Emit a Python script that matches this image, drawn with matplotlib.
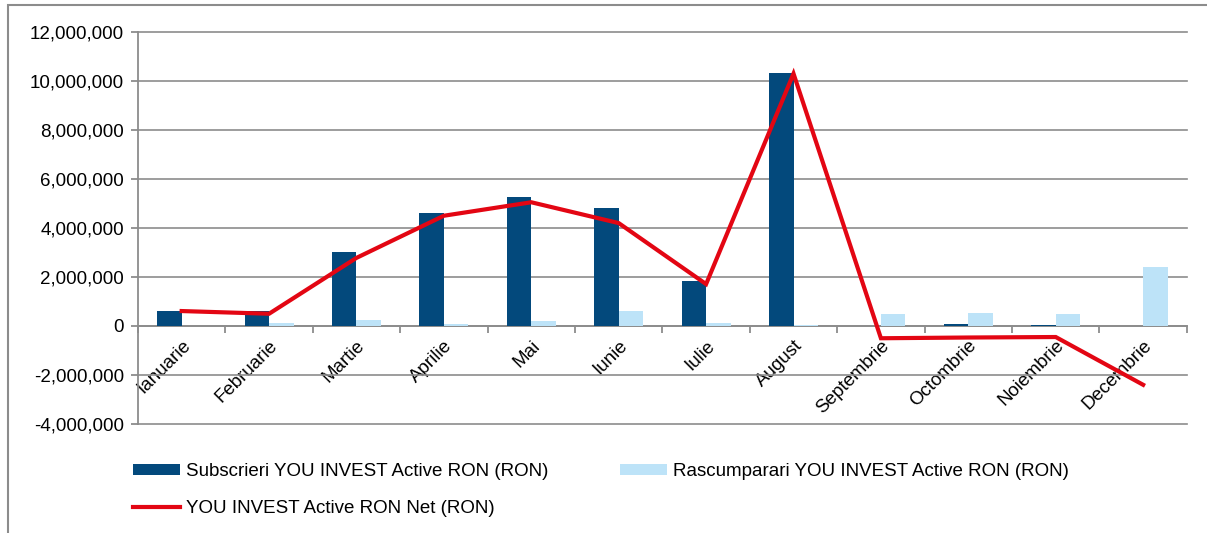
import numpy as np
import matplotlib.pyplot as plt
from matplotlib.ticker import FuncFormatter
from matplotlib.patches import Rectangle

plt.rcParams['font.family'] = ['Liberation Sans', 'DejaVu Sans']

months = ['Ianuarie', 'Februarie', 'Martie', 'Aprilie', 'Mai', 'Iunie',
          'Iulie', 'August', 'Septembrie', 'Octombrie', 'Noiembrie', 'Decembrie']
subscrieri = [610000, 620000, 3020000, 4600000, 5270000, 4820000,
              1840000, 10330000, 0, 70000, 30000, 0]
rascumparari = [0, 120000, 240000, 100000, 220000, 620000,
                130000, 30000, 500000, 540000, 480000, 2400000]
net = [610000, 500000, 2780000, 4500000, 5050000, 4200000,
       1710000, 10300000, -500000, -470000, -450000, -2400000]

dark = '#03497C'
light = '#BDE3F8'
red = '#E30613'
grey = '#8C8C8C'
fs = 13.5

fig = plt.figure(figsize=(12.07, 5.33), dpi=100)
ax = fig.add_axes([0.1143, 0.2045, 0.869, 0.7355])

x = np.arange(len(months))
w = 0.28
b1 = ax.bar(x - w / 2, subscrieri, w, color=dark, label='Subscrieri YOU INVEST Active RON (RON)', zorder=3)
b2 = ax.bar(x + w / 2, rascumparari, w, color=light, label='Rascumparari YOU INVEST Active RON (RON)', zorder=3)
l1, = ax.plot(x, net, color=red, lw=3, label='YOU INVEST Active RON Net (RON)', zorder=4,
              solid_joinstyle='miter')

ax.set_xlim(-0.5, 11.5)
ax.set_ylim(-4000000, 12000000)
ax.set_yticks(np.arange(-4000000, 12000001, 2000000))
ax.yaxis.set_major_formatter(FuncFormatter(lambda v, p: f'{int(v):,}'))
ax.grid(axis='y', color=grey, lw=1.2, zorder=0)
for gl in ax.get_ygridlines():
    gl.set_clip_on(False)

for s in ['top', 'right']:
    ax.spines[s].set_visible(False)
ax.spines['left'].set_color(grey)
ax.spines['left'].set_linewidth(1.3)
ax.spines['bottom'].set_position(('data', 0))
ax.spines['bottom'].set_color(grey)
ax.spines['bottom'].set_linewidth(1.3)

ax.set_xticks(x)
ax.set_xticklabels(months, rotation=45, ha='right', rotation_mode='anchor', fontsize=fs)
ax.set_xticks(np.arange(-0.5, 12, 1), minor=True)
ax.tick_params(axis='x', which='major', length=0, pad=8)
ax.tick_params(axis='x', which='minor', length=5, color=grey, width=1.3)
ax.tick_params(axis='y', length=5, color=grey, width=1.3, labelsize=fs, pad=5)

# column-major fill: subs, net | rasc
ax.legend([b1, l1, b2], [b1.get_label(), l1.get_label(), b2.get_label()],
          loc='upper left', bbox_to_anchor=(0.096, 0.163), bbox_transform=fig.transFigure,
          ncol=2, frameon=False, fontsize=fs, handlelength=2.5, handleheight=0.55,
          columnspacing=3.8, labelspacing=1.07, handletextpad=0.35)

fig.patches.append(Rectangle((0.007, -0.01), 0.995, 1.0, transform=fig.transFigure,
                             fill=False, edgecolor=grey, lw=1.5))

fig.savefig('out.png', dpi=100)
